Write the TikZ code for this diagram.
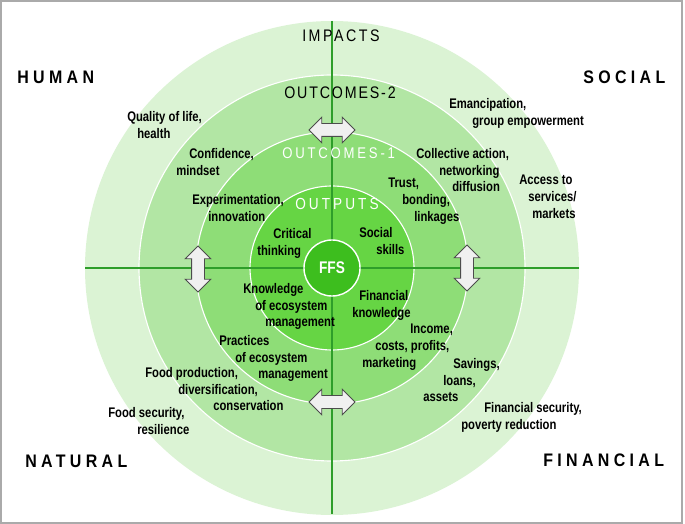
\documentclass[tikz,border=0pt]{standalone}
\usepackage{fontspec}
\setmainfont{Liberation Sans}[FakeStretch=0.81]
\newfontfamily\capsfont{Liberation Sans}[FakeStretch=0.88,LetterSpace=24]
\newfontfamily\ringfont{Liberation Sans}[FakeStretch=0.85]
\usetikzlibrary{shapes.arrows}
\definecolor{impactcol}{RGB}{219,243,212}
\definecolor{outtwocol}{RGB}{178,230,164}
\definecolor{outonecol}{RGB}{142,221,119}
\definecolor{outputcol}{RGB}{102,213,68}
\definecolor{ffscol}{RGB}{61,190,30}
\definecolor{axiscol}{RGB}{46,158,42}
\definecolor{framecol}{RGB}{170,170,170}
\newlength{\pxu}
\setlength{\pxu}{0.025cm}
\newcommand{\ind}[1]{\hspace*{#1\pxu}}
\tikzset{
  ring/.style={draw=white, line width=0.8pt},
  lbl/.style={anchor=north west, inner sep=0pt, align=left, font=\fontsize{9.9}{11.9}\selectfont\bfseries},
  corner/.style={anchor=north west, inner sep=0pt, font=\capsfont\fontsize{12.9}{14}\selectfont\bfseries},
  ringlbl/.style 2 args={anchor=north west, inner sep=0pt, font=\ringfont\fontsize{#1}{14}\selectfont\addfontfeature{LetterSpace=#2}},
  dblarrow/.style={double arrow, draw=black!70, fill=black!6, line width=0.6pt, inner sep=0.15cm,
    minimum height=1.15cm, double arrow head extend=0.16cm}
}
\begin{document}
\begin{tikzpicture}[x=0.025cm, y=-0.025cm]
  \useasboundingbox (0,0) rectangle (685,524);
  \coordinate (C) at (332,268);

  % rings
  \fill[impactcol] (C) circle (247);
  \draw[ring, fill=outtwocol] (C) circle (193);
  \draw[ring, fill=outonecol] (C) circle (136);
  \draw[ring, fill=outputcol] (C) circle (82);

  % axes
  \coordinate (axtop) at (332,21);
  \coordinate (axbot) at (332,514);
  \coordinate (axleft) at (85,268);
  \coordinate (axright) at (579,268);
  \draw[axiscol, line width=0.9pt] (axtop) -- (axbot);
  \draw[axiscol, line width=0.9pt] (axleft) -- (axright);

  \node[circle, draw=white, fill=ffscol, line width=1pt, minimum size=1.4cm, inner sep=0pt,
    text=white, font=\fontsize{12}{14}\selectfont\bfseries] (ffs) at (C) {FFS};

  % arrows between rings
  \node[dblarrow] (arrtop) at (332,130) {};
  \node[dblarrow] (arrbot) at (332,402) {};
  \node[dblarrow, shape border rotate=90] (arrleft) at (198,269) {};
  \node[dblarrow, shape border rotate=90] (arrright) at (467,268) {};

  % ring titles
  \node[ringlbl={11.9}{15}] (impacts) at (302,30) {IMPACTS};
  \node[ringlbl={11.9}{11}] (outtwo) at (284,87) {OUTCOMES-2};
  \node[ringlbl={11}{18}, text=white] (outone) at (282,147) {OUTCOMES-1};
  \node[ringlbl={11.4}{19}, text=white] (outputs) at (295,198) {OUTPUTS};

  % capitals
  \node[corner] (human) at (17,71) {HUMAN};
  \node[corner] (social) at (583,71) {SOCIAL};
  \node[corner] (natural) at (25,455) {NATURAL};
  \node[corner] (financial) at (543,454) {FINANCIAL};

  % human
  \node[lbl] (qual) at (127,111) {Quality of life,\\\ind{10}health};
  \node[lbl] (conf) at (176,148) {\ind{13}Confidence,\\mindset};
  \node[lbl] (exper) at (192,194) {Experimentation,\\\ind{16}innovation};
  \node[lbl] (crit) at (257,228) {\ind{16}Critical\\thinking};

  % social
  \node[lbl] (eman) at (449,98) {Emancipation,\\\ind{23}group empowerment};
  \node[lbl] (coll) at (416,148) {Collective action,\\\ind{23}networking\\\ind{36}diffusion};
  \node[lbl] (trust) at (388,178) {Trust,\\\ind{14}bonding,\\\ind{26}linkages};
  \node[lbl] (access) at (519,175) {Access to\\\ind{9}services/\\\ind{13}markets};
  \node[lbl] (soc) at (359,227) {Social\\\ind{17}skills};

  % natural
  \node[lbl] (know) at (243,283) {Knowledge\\\ind{12}of ecosystem\\\ind{22}management};
  \node[lbl] (pract) at (219,335) {Practices\\\ind{16}of ecosystem\\\ind{39}management};
  \node[lbl] (food) at (145,367) {Food production,\\\ind{33}diversification,\\\ind{68}conservation};
  \node[lbl] (foodsec) at (108,407) {Food security,\\\ind{29}resilience};

  % financial
  \node[lbl] (finknow) at (352,290) {\ind{7}Financial\\knowledge};
  \node[lbl] (income) at (362,324) {\ind{48}Income,\\\ind{13}costs, profits,\\marketing};
  \node[lbl] (sav) at (423,358) {\ind{30}Savings,\\\ind{20}loans,\\assets};
  \node[lbl] (finsec) at (461,402) {\ind{23}Financial security,\\poverty reduction};

  \draw[framecol, line width=1.1pt] (0.8,0.8) rectangle (682,523);
\end{tikzpicture}
\end{document}
